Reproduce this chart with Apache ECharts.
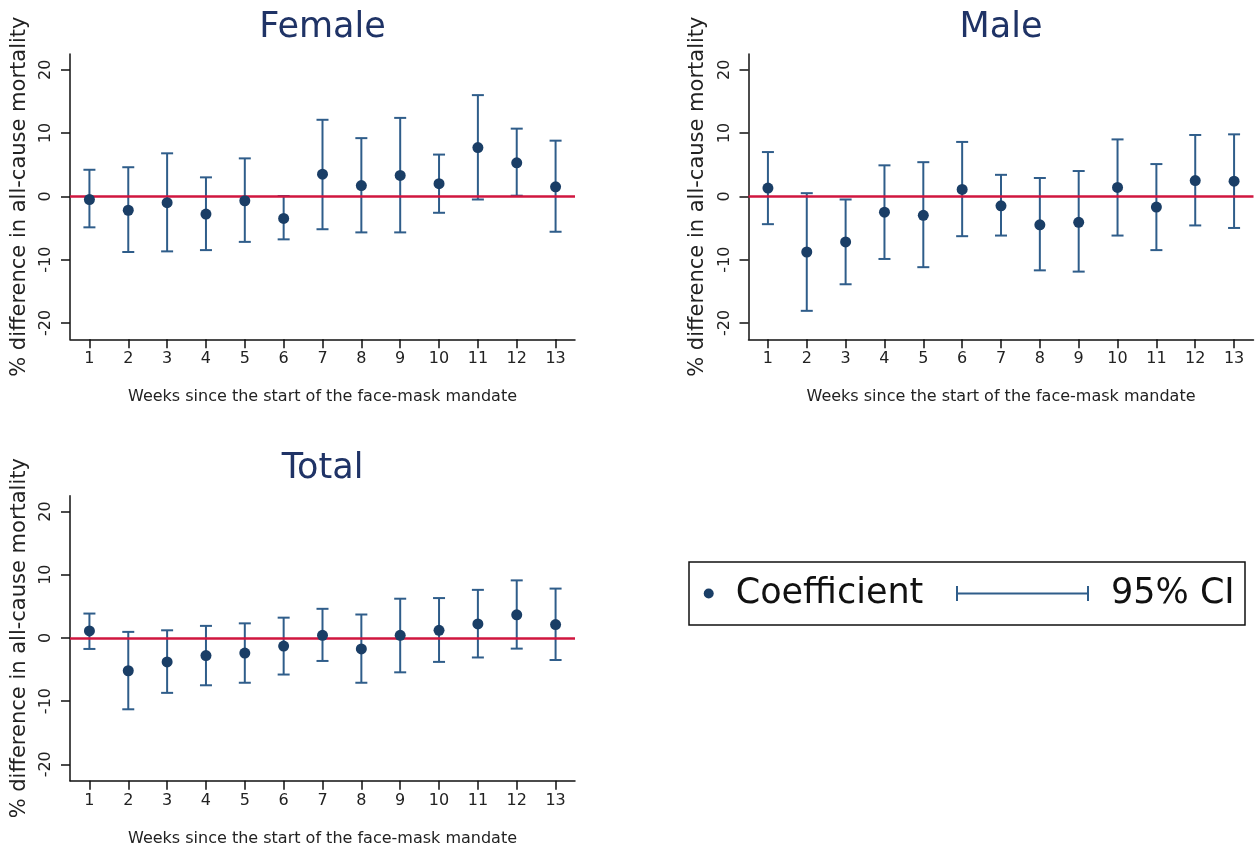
<!DOCTYPE html>
<html>
<head>
<meta charset="utf-8">
<script src="https://cdn.jsdelivr.net/npm/echarts@6/dist/echarts.min.js"></script>
<style>
html,body{margin:0;padding:0;background:#fff;}
#chart{width:1256px;height:851px;}
</style>
</head>
<body>
<div id="chart"></div>
<script>
// ---- data ----
const weeks = [1,2,3,4,5,6,7,8,9,10,11,12,13];
const yTicks = [-20,-10,0,10,20];

const femaleCoef = [-0.5, -2.2, -1.0, -2.8, -0.7, -3.5, 3.5, 1.7, 3.3, 2.0, 7.7, 5.3, 1.5];
const femaleLo   = [-4.9, -8.8, -8.7, -8.5, -7.2, -6.8, -5.2, -5.7, -5.7, -2.6, -0.5, 0.1, -5.6];
const femaleHi   = [4.2, 4.6, 6.8, 3.0, 6.0, 0.05, 12.1, 9.2, 12.4, 6.6, 16.0, 10.7, 8.8];

const maleCoef = [1.3, -8.8, -7.2, -2.5, -3.0, 1.1, -1.5, -4.5, -4.1, 1.4, -1.7, 2.5, 2.4];
const maleLo   = [-4.4, -18.1, -13.9, -9.9, -11.2, -6.3, -6.2, -11.7, -11.9, -6.2, -8.5, -4.6, -5.0];
const maleHi   = [7.0, 0.5, -0.5, 4.9, 5.4, 8.6, 3.4, 2.9, 4.0, 9.0, 5.1, 9.7, 9.8];

const totalCoef = [1.1, -5.2, -3.8, -2.8, -2.4, -1.3, 0.4, -1.75, 0.4, 1.2, 2.2, 3.65, 2.1];
const totalLo   = [-1.75, -11.3, -8.7, -7.5, -7.1, -5.8, -3.65, -7.1, -5.45, -3.8, -3.1, -1.7, -3.5];
const totalHi   = [3.85, 0.95, 1.2, 1.9, 2.3, 3.2, 4.6, 3.7, 6.2, 6.3, 7.6, 9.1, 7.8];

const panelTitles = ['Female', 'Male', 'Total'];
const xName = 'Weeks since the start of the face-mask mandate';
const yName = '% difference in all-cause mortality';

// ---- styles ----
const FONT = 'DejaVu Sans';
const CI_COLOR = '#2f5d8a';
const DOT_COLOR = '#1a3e66';
const ZERO_COLOR = '#d0163f';
const TITLE_COLOR = '#1f3366';
const AXIS_COLOR = '#111';

const grids = [
  {left: 70, top: 54, width: 505, height: 285.3},
  {left: 748.5, top: 54, width: 505, height: 285.3},
  {left: 70, top: 495.7, width: 505, height: 285}
];
const panels = [
  {coef: femaleCoef, lo: femaleLo, hi: femaleHi},
  {coef: maleCoef, lo: maleLo, hi: maleHi},
  {coef: totalCoef, lo: totalLo, hi: totalHi}
];

function renderCI(params, api) {
  const x = api.value(0), lo = api.value(1), hi = api.value(2);
  const top = api.coord([x, hi]);
  const bot = api.coord([x, lo]);
  const hw = 6;
  const style = {stroke: CI_COLOR, lineWidth: 2, fill: null};
  return {
    type: 'group',
    children: [
      {type: 'line', shape: {x1: top[0], y1: top[1], x2: bot[0], y2: bot[1]}, style: style},
      {type: 'line', shape: {x1: top[0]-hw, y1: top[1], x2: top[0]+hw, y2: top[1]}, style: style},
      {type: 'line', shape: {x1: bot[0]-hw, y1: bot[1], x2: bot[0]+hw, y2: bot[1]}, style: style}
    ]
  };
}

const xAxes = [], yAxes = [], series = [], titles = [];
grids.forEach((g, i) => {
  xAxes.push({
    gridIndex: i, type: 'value', min: 0.5, max: 13.5,
    name: xName, nameLocation: 'middle', nameGap: 50,
    nameTextStyle: {fontFamily: FONT, fontSize: 16, color: '#222'},
    axisLine: {show: true, onZero: false, lineStyle: {color: AXIS_COLOR, width: 1.5}},
    axisTick: {show: true, length: 9, customValues: weeks, lineStyle: {color: AXIS_COLOR, width: 1.5}},
    axisLabel: {customValues: weeks, margin: 12, fontFamily: FONT, fontSize: 16, color: '#222'},
    splitLine: {show: false}
  });
  yAxes.push({
    gridIndex: i, type: 'value', min: -22.6, max: 22.5,
    name: yName, nameLocation: 'middle', nameGap: 40,
    nameTextStyle: {fontFamily: FONT, fontSize: 21, color: '#222'},
    axisLine: {show: true, onZero: false, lineStyle: {color: AXIS_COLOR, width: 1.5}},
    axisTick: {show: true, length: 9, customValues: yTicks, lineStyle: {color: AXIS_COLOR, width: 1.5}},
    axisLabel: {customValues: yTicks, rotate: 90, margin: 16, fontFamily: FONT, fontSize: 16, color: '#222'},
    splitLine: {show: false}
  });
  const p = panels[i];
  series.push({
    type: 'custom', name: '95% CI', xAxisIndex: i, yAxisIndex: i,
    renderItem: renderCI,
    itemStyle: {color: CI_COLOR},
    encode: {x: 0, y: [1, 2]},
    data: weeks.map((w, k) => [w, p.lo[k], p.hi[k]]),
    z: 3,
    markLine: {
      silent: true, symbol: 'none', animation: false,
      label: {show: false},
      lineStyle: {color: ZERO_COLOR, width: 2.5, type: 'solid'},
      data: [{yAxis: 0}],
      z: 4
    }
  });
  series.push({
    type: 'scatter', name: 'Coefficient', xAxisIndex: i, yAxisIndex: i,
    symbol: 'circle', symbolSize: 11,
    itemStyle: {color: DOT_COLOR, opacity: 1},
    data: weeks.map((w, k) => [w, p.coef[k]]),
    z: 5
  });
  titles.push({
    text: panelTitles[i],
    left: g.left + g.width / 2,
    top: g.top - 44,
    textAlign: 'center',
    padding: 0,
    textStyle: {fontFamily: FONT, fontSize: 35, fontWeight: 'normal', color: TITLE_COLOR}
  });
});

const ciIcon = 'path://M0,0 h2 v6.5 h129 v-6.5 h2 v15 h-2 v-6.5 h-129 v6.5 h-2 z';

const option = {
  animation: false,
  backgroundColor: '#fff',
  title: titles,
  grid: grids.map(g => Object.assign({containLabel: false}, g)),
  xAxis: xAxes,
  yAxis: yAxes,
  series: series,
  legend: [
    {
      data: [{name: 'Coefficient', icon: 'circle', itemStyle: {color: DOT_COLOR}}],
      left: 703.7, top: 576, padding: 0,
      itemWidth: 10, itemHeight: 10, selectedMode: false,
      textStyle: {fontFamily: FONT, fontSize: 35, color: '#111', padding: [0, 0, 0, 17]}
    },
    {
      data: [{name: '95% CI', icon: ciIcon, itemStyle: {color: CI_COLOR}}],
      left: 956, top: 576, padding: 0,
      itemWidth: 133, itemHeight: 15, selectedMode: false,
      textStyle: {fontFamily: FONT, fontSize: 35, color: '#111', padding: [0, 0, 0, 17]}
    }
  ],
  graphic: [{
    type: 'rect', silent: true,
    shape: {x: 689, y: 562, width: 556, height: 63},
    style: {fill: 'none', stroke: '#111', lineWidth: 1.5}
  }]
};

const chart = echarts.init(document.getElementById('chart'), null, {renderer: 'canvas'});
chart.setOption(option);
</script>
</body>
</html>
